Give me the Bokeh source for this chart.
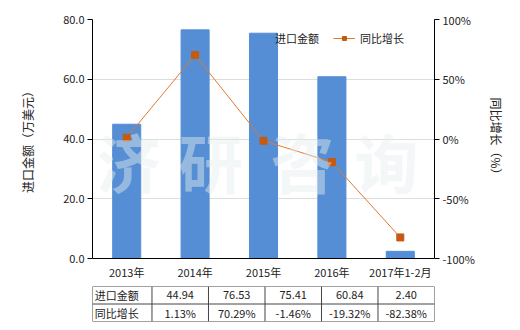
from bokeh.plotting import figure
from bokeh.models import (ColumnDataSource, Range1d, LinearAxis, PrintfTickFormatter,
                          FixedTicker, Legend, LegendItem, Label, FactorRange)
from bokeh.layouts import column
from bokeh.embed import file_html
from bokeh.resources import INLINE

categories = ["2013年", "2014年", "2015年", "2016年", "2017年1-2月"]
import_values = [44.94, 76.53, 75.41, 60.84, 2.40]
yoy_growth = [1.13, 70.29, -1.46, -19.32, -82.38]
left_ticks = [0, 20, 40, 60, 80]
right_ticks = [-100, -50, 0, 50, 100]
series_names = ["进口金额", "同比增长"]
watermark = ["济", "研", "咨", "询"]

FONT = "Noto Sans CJK SC"
BAR = "#558ED5"
LINE = "#E0782F"
MARK = "#C55A11"

src = ColumnDataSource(dict(cat=categories, val=import_values, pct=yoy_growth))

p = figure(width=520, height=282, x_range=FactorRange(*categories), y_range=Range1d(0, 80),
           output_backend="svg", toolbar_location=None,
           min_border_left=92, min_border_right=86, min_border_top=19, min_border_bottom=23)
p.outline_line_color = None
p.xgrid.grid_line_color = None
p.ygrid.grid_line_color = "#DDDDDD"
p.ygrid.ticker = FixedTicker(ticks=left_ticks)

bars = p.vbar(x="cat", top="val", width=0.41, source=src, color=BAR)

p.extra_y_ranges = {"pct": Range1d(-100, 100)}
ln = p.line(x="cat", y="pct", source=src, y_range_name="pct", color=LINE, line_width=1)
mk = p.scatter(x="cat", y="pct", source=src, y_range_name="pct", marker="square", size=7,
               fill_color=MARK, line_color=MARK)

ya = p.yaxis[0]
ya.ticker = FixedTicker(ticks=left_ticks)
ya.formatter = PrintfTickFormatter(format="%.1f")
ya.axis_label = "进口金额（万美元）"
ya.axis_label_standoff = 24

ra = LinearAxis(y_range_name="pct", ticker=FixedTicker(ticks=right_ticks),
                formatter=PrintfTickFormatter(format="%d%%"), axis_label="同比增长（%）",
                axis_label_standoff=10)
p.add_layout(ra, "right")

for ax in (ya, ra):
    ax.axis_line_color = "#000000"
    ax.major_tick_line_color = "#000000"
    ax.major_tick_out = 5
    ax.major_tick_in = 0
    ax.minor_tick_line_color = None
    ax.major_label_standoff = 3
    ax.major_label_text_font = FONT
    ax.major_label_text_font_size = "11px"
    ax.major_label_text_color = "#222222"
    ax.axis_label_text_font = FONT
    ax.axis_label_text_font_size = "12px"
    ax.axis_label_text_font_style = "normal"
    ax.axis_label_text_color = "#222222"

xa = p.xaxis[0]
xa.axis_line_color = "#000000"
xa.major_tick_line_color = None
xa.major_tick_out = 0
xa.major_tick_in = 0
xa.minor_tick_line_color = None
xa.major_label_standoff = 5
xa.major_label_text_font = FONT
xa.major_label_text_font_size = "11px"
xa.major_label_text_color = "#222222"

legend = Legend(items=[LegendItem(label=series_names[0], renderers=[bars]),
                       LegendItem(label=series_names[1], renderers=[ln, mk])],
                orientation="horizontal", location=(156, 212), padding=0, margin=0,
                spacing=14, glyph_width=22, glyph_height=10, label_standoff=5,
                background_fill_alpha=0, border_line_color=None,
                label_text_font=FONT, label_text_font_size="11px", label_text_color="#222222")
p.add_layout(legend)

wm_x = [0.53, 1.73, 3.07, 4.30]
for ch, x in zip(watermark, wm_x):
    p.add_layout(Label(x=x, y=33, text=ch, text_align="center", text_baseline="middle",
                       text_font=FONT, text_font_size="64px", text_font_style="bold",
                       text_color="#E6EDED", text_alpha=0.45))

# table
n = len(categories)
head_w = 72 / 68.4
t = figure(width=520, height=48, x_range=Range1d(-head_w, n), y_range=Range1d(0, 2),
           output_backend="svg", toolbar_location=None,
           min_border_left=20, min_border_right=86, min_border_top=4, min_border_bottom=9)
t.axis.visible = False
t.grid.visible = False
t.outline_line_color = None

vx = [-head_w] + list(range(n + 1))
t.segment(x0=vx, y0=[0] * len(vx), x1=vx, y1=[2] * len(vx), color="#444444", line_width=1)
t.segment(x0=[-head_w] * 3, y0=[0, 1, 2], x1=[n] * 3, y1=[0, 1, 2], color="#444444", line_width=1)

t.text(x=[-head_w + 0.04] * 2, y=[1.5, 0.5], text=series_names, text_align="left",
       text_baseline="middle", text_font={"value": FONT}, text_font_size="11px", text_color="#222222")
xs = [i + 0.5 for i in range(n)]
t.text(x=xs, y=[1.5] * n, text=["%.2f" % v for v in import_values], text_align="center",
       text_baseline="middle", text_font={"value": FONT}, text_font_size="11px", text_color="#222222")
t.text(x=xs, y=[0.5] * n, text=["%.2f%%" % v for v in yoy_growth], text_align="center",
       text_baseline="middle", text_font={"value": FONT}, text_font_size="11px", text_color="#222222")

lay = column(p, t, spacing=0)
open("out.html", "w").write(file_html(lay, INLINE))
